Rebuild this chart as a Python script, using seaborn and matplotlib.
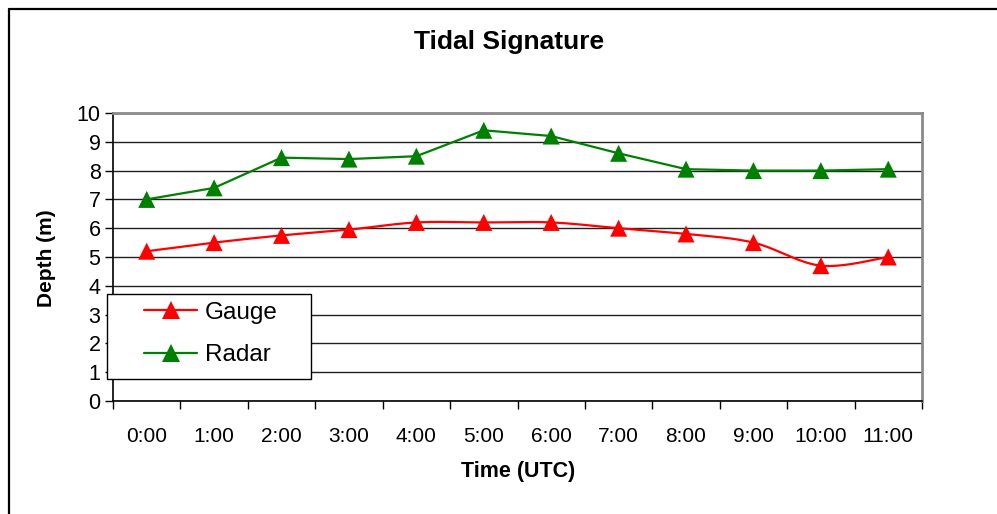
import numpy as np
import pandas as pd
import matplotlib
matplotlib.use("Agg")
import matplotlib.pyplot as plt
from matplotlib.lines import Line2D
from matplotlib.patches import Rectangle
import seaborn as sns

# Hourly depth readings
times = ["0:00", "1:00", "2:00", "3:00", "4:00", "5:00",
         "6:00", "7:00", "8:00", "9:00", "10:00", "11:00"]
gauge = [5.2, 5.5, 5.75, 5.95, 6.2, 6.2, 6.2, 6.0, 5.8, 5.5, 4.7, 5.0]
radar = [7.0, 7.4, 8.45, 8.4, 8.5, 9.4, 9.2, 8.6, 8.05, 8.0, 8.0, 8.05]
y_ticks = [0, 1, 2, 3, 4, 5, 6, 7, 8, 9, 10]

RED = "#FF0000"
GREEN = "#008000"

sns.set_theme(style="white")
plt.rcParams["font.family"] = ["Liberation Sans", "DejaVu Sans"]
plt.rcParams["text.color"] = "black"
plt.rcParams["xtick.color"] = "black"
plt.rcParams["ytick.color"] = "black"
plt.rcParams["axes.labelcolor"] = "black"

W, H = 997, 514
fig = plt.figure(figsize=(W / 100, H / 100), dpi=100)
ax = fig.add_axes([113 / W, 1 - 401 / H, (922 - 113) / W, (401 - 113) / H])

x_idx = np.arange(len(times))
df = pd.DataFrame({"idx": np.concatenate([x_idx, x_idx]),
                   "depth": gauge + radar,
                   "series": ["Gauge"] * len(times) + ["Radar"] * len(times)})


def smooth_curve(xs, ys, steps=20):
    """Cardinal (Catmull-Rom style) Bezier smoothing through the points."""
    xs = np.asarray(xs, float)
    ys = np.asarray(ys, float)
    px = np.concatenate([[xs[0]], xs, [xs[-1]]])
    py = np.concatenate([[ys[0]], ys, [ys[-1]]])
    out_x, out_y = [], []
    t = np.linspace(0, 1, steps)
    for i in range(1, len(px) - 2):
        p0 = np.array([px[i], py[i]])
        p3 = np.array([px[i + 1], py[i + 1]])
        c1 = p0 + (np.array([px[i + 1], py[i + 1]]) - np.array([px[i - 1], py[i - 1]])) / 6
        c2 = p3 - (np.array([px[i + 2], py[i + 2]]) - np.array([px[i], py[i]])) / 6
        b = ((1 - t) ** 3)[:, None] * p0 + (3 * (1 - t) ** 2 * t)[:, None] * c1 \
            + (3 * (1 - t) * t ** 2)[:, None] * c2 + (t ** 3)[:, None] * p3
        out_x.extend(b[:, 0])
        out_y.extend(b[:, 1])
    return np.array(out_x), np.array(out_y)


# Gauge: smoothed line through the readings
gx, gy = smooth_curve(x_idx, gauge)
sns.lineplot(x=gx, y=gy, sort=False, color=RED, lw=1.6, ax=ax, zorder=3)
# Radar: straight segments
sns.lineplot(data=df[df.series == "Radar"], x="idx", y="depth", color=GREEN,
             lw=1.6, ax=ax, zorder=3)
# Triangle markers for both series
sns.scatterplot(data=df, x="idx", y="depth", hue="series",
                palette={"Gauge": RED, "Radar": GREEN}, marker="^", s=150,
                edgecolor=None, linewidth=0, ax=ax, zorder=4, legend=False)

ax.set_xlim(-0.5, len(times) - 0.5)
ax.set_ylim(0, 10)
ax.set_yticks(y_ticks)
ax.set_yticklabels([str(v) for v in y_ticks], fontsize=15.5)
ax.yaxis.grid(True, color="#202020", lw=1.0)
ax.set_axisbelow(True)

# category ticks between the time labels, labels centred on points
ax.set_xticks(np.arange(-0.5, len(times), 1.0))
ax.set_xticklabels([])
ax.set_xticks(x_idx, minor=True)
ax.set_xticklabels(times, minor=True, fontsize=15)
ax.tick_params(axis="x", which="major", direction="out", length=6, width=1,
               color="black", bottom=True)
ax.tick_params(axis="x", which="minor", length=0, pad=19)
ax.tick_params(axis="y", direction="out", length=6, width=1, color="black",
               left=True, pad=3)
ax.set_xlabel("")
ax.set_ylabel("")

for side in ("left", "bottom"):
    ax.spines[side].set_color("black")
    ax.spines[side].set_linewidth(1.2)
for side in ("top", "right"):
    ax.spines[side].set_color("#8a8a8a")
    ax.spines[side].set_linewidth(2.0)

# Legend with its own white box
box = Rectangle((107 / W, 1 - 379 / H), (311 - 107) / W, (379 - 294) / H,
                transform=fig.transFigure, facecolor="white", edgecolor="black",
                lw=1.0, zorder=5, clip_on=False)
ax.add_patch(box)
handles = [Line2D([], [], color=RED, lw=1.6, marker="^", markersize=13,
                  markeredgewidth=0),
           Line2D([], [], color=GREEN, lw=1.6, marker="^", markersize=13,
                  markeredgewidth=0)]
leg = ax.legend(handles, ["Gauge", "Radar"], loc="center left",
                bbox_to_anchor=(144 / W, 1 - 334 / H),
                bbox_transform=fig.transFigure, frameon=False, fontsize=17.5,
                handlelength=2.2, handletextpad=0.3, labelspacing=0.85,
                borderpad=0, borderaxespad=0)
leg.set_zorder(6)

# Titles and axis labels
fig.text(509 / W, 1 - 42 / H, "Tidal Signature", ha="center", va="center",
         fontsize=19, fontweight="bold")
fig.text(47 / W, 1 - 258 / H, "Depth (m)", ha="center", va="center",
         rotation=90, fontsize=15, fontweight="bold")
fig.text(518 / W, 1 - 471 / H, "Time (UTC)", ha="center", va="center",
         fontsize=15.5, fontweight="bold")

# Outer chart frame (left and top edges)
fig.add_artist(Line2D([8.5 / W, 8.5 / W], [0, 1 - 8.5 / H], color="black",
                      lw=1.6, transform=fig.transFigure))
fig.add_artist(Line2D([8.5 / W, 1], [1 - 8.5 / H, 1 - 8.5 / H], color="black",
                      lw=1.6, transform=fig.transFigure))

fig.savefig("out.png", dpi=100, facecolor="white")
